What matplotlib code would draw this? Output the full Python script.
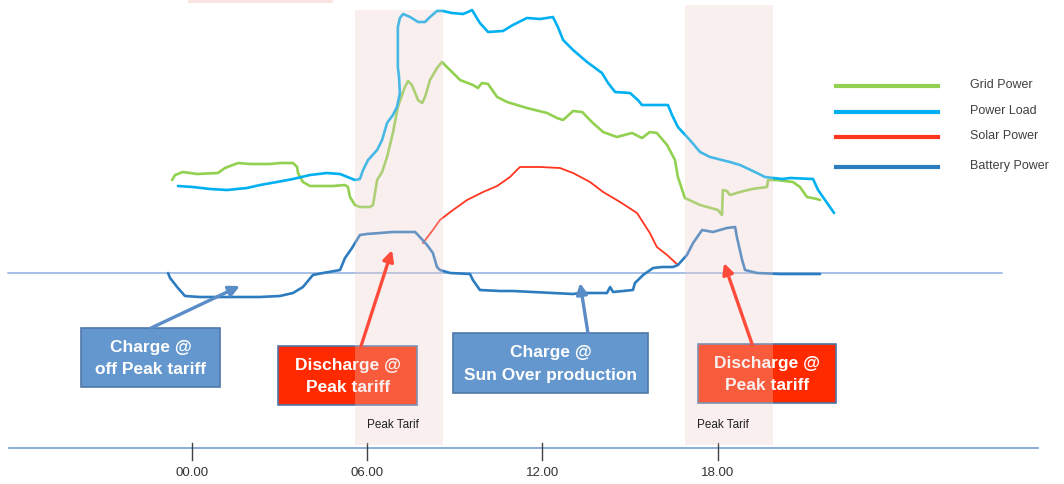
import numpy as np
import matplotlib.pyplot as plt
from matplotlib.patches import Rectangle

# %%
# Daily power profile: time in hours, power in kW (battery > 0 = discharging)
grid_t = [-0.68, -0.58, -0.31, -0.07, 0.17, 0.89, 1.13, 1.58, 1.99, 2.67, 3.01, 3.46,
          3.60, 3.63, 3.80, 4.04, 4.83, 5.24, 5.34, 5.41, 5.58, 5.75, 6.10, 6.20,
          6.34, 6.51, 6.68, 6.88, 7.05, 7.29, 7.40, 7.53, 7.74, 7.88, 7.98, 8.15,
          8.39, 8.56, 8.73, 9.01, 9.18, 9.62, 9.79, 9.93, 10.14, 10.45, 10.79, 11.47,
          12.16, 12.50, 12.71, 13.05, 13.36, 13.73, 14.08, 14.55, 15.07, 15.41, 15.68,
          15.92, 16.27, 16.54, 16.64, 16.88, 17.40, 18.01, 18.15, 18.18, 18.32, 18.42,
          18.77, 19.18, 19.69, 19.73, 20.03, 20.58, 20.82, 21.06, 21.40, 21.51]
grid_kw = [9.3, 9.8, 10.1, 10.0, 9.9, 10.0, 10.5, 11.0, 10.9, 10.9, 11.0, 11.0,
           10.6, 10.0, 9.1, 8.7, 8.7, 8.8, 8.6, 7.6, 6.8, 6.6, 6.6, 6.8,
           9.3, 10.1, 11.6, 14.0, 16.6, 18.6, 19.2, 18.8, 17.3, 17.0, 17.6, 19.3,
           20.5, 21.1, 20.6, 19.8, 19.3, 18.8, 18.5, 19.0, 18.9, 17.6, 17.1, 16.5,
           16.0, 15.5, 15.3, 16.2, 16.1, 15.0, 14.1, 13.6, 14.0, 13.5, 14.1,
           14.0, 12.8, 11.3, 9.6, 7.5, 6.8, 6.3, 5.8, 8.3, 8.2, 7.8,
           8.1, 8.4, 8.6, 9.3, 9.3, 9.1, 8.6, 7.6, 7.4, 7.3]

load_t = [-0.48, 0.03, 0.62, 1.20, 1.88, 2.33, 2.91, 3.46, 4.04, 4.62, 5.07, 5.41,
          5.58, 5.75, 5.86, 6.03, 6.34, 6.51, 6.68, 6.88, 7.02, 7.12, 7.09, 7.05,
          7.05, 7.12, 7.23, 7.47, 7.74, 7.98, 8.15, 8.39, 8.60, 8.90, 9.28, 9.45,
          9.59, 9.86, 10.14, 10.65, 10.99, 11.47, 11.92, 12.36, 12.53, 12.71, 13.05,
          13.53, 14.04, 14.25, 14.49, 15.00, 15.27, 15.41, 16.30, 16.44, 16.64, 17.05,
          17.40, 17.74, 18.42, 18.77, 19.35, 19.62, 20.21, 20.48, 21.27, 21.44, 21.75, 21.99]
load_kw = [8.7, 8.6, 8.4, 8.3, 8.5, 8.8, 9.1, 9.4, 9.8, 10.0, 9.9, 9.5,
           9.3, 9.4, 10.3, 11.3, 12.3, 13.3, 15.0, 15.8, 16.6, 18.0, 19.6, 20.6,
           24.6, 25.5, 25.9, 25.6, 25.1, 25.1, 25.6, 26.2, 26.2, 26.0, 25.9, 26.1,
           26.3, 25.0, 24.1, 24.2, 24.8, 25.5, 25.4, 25.6, 24.6, 23.3, 22.3,
           21.1, 20.0, 19.0, 18.1, 18.0, 17.3, 16.8, 16.8, 15.8, 14.6, 13.3,
           12.1, 11.6, 11.1, 10.8, 10.0, 9.6, 9.4, 9.5, 9.4, 8.3, 7.0, 6.0]

solar_t = [7.91, 8.25, 8.49, 8.94, 9.42, 9.97, 10.45, 10.89, 11.23, 11.92, 12.60,
           13.05, 13.63, 14.08, 14.66, 15.24, 15.68, 15.92, 16.27, 16.64]
solar_kw = [3.0, 4.3, 5.3, 6.3, 7.3, 8.1, 8.7, 9.6, 10.6, 10.6, 10.5,
            10.0, 9.1, 8.1, 7.1, 6.0, 4.0, 2.6, 1.8, 0.8]

batt_t = [-0.82, -0.75, -0.51, -0.24, 0.27, 1.20, 2.33, 3.01, 3.46, 3.80, 4.14, 4.49,
          5.07, 5.24, 5.48, 5.75, 5.99, 6.44, 6.88, 7.64, 7.74, 8.05, 8.25, 8.39,
          8.49, 8.84, 9.52, 9.62, 9.86, 10.55, 10.99, 13.05, 13.29, 14.21, 14.32,
          14.42, 15.10, 15.17, 15.45, 15.79, 16.10, 16.47, 16.64, 16.95, 17.16, 17.47,
          17.84, 18.32, 18.60, 18.66, 18.84, 18.94, 19.35, 20.14, 21.51]
batt_kw = [0.0, -0.5, -1.4, -2.3, -2.4, -2.4, -2.4, -2.3, -2.0, -1.4, -0.2, 0.0,
           0.3, 1.5, 2.5, 3.8, 3.9, 4.0, 4.1, 4.1, 3.8, 2.8, 2.0, 0.6,
           0.3, 0.0, -0.1, -0.7, -1.7, -1.8, -1.8, -2.1, -2.0, -2.0, -1.4,
           -1.9, -1.7, -1.0, -0.2, 0.5, 0.6, 0.6, 0.8, 1.8, 3.0, 4.3,
           4.1, 4.5, 4.6, 3.6, 1.3, 0.3, 0.0, -0.1, -0.1]

# peak tariff windows (start, end) in hours
peak_windows = [(5.58, 8.60), (16.88, 19.90)]
tick_hours = [0, 6, 12, 18]
tick_labels = ['00.00', '06.00', '12.00', '18.00']

names = ['Grid Power', 'Power Load', 'Solar Power', 'Battery Power']
colors = ['#92D050', '#00B0F0', '#FF3520', '#2E7CC0']

# callouts: text, box (x0, x1, y0, y1), arrow tail, arrow head, colours
callouts = [
    ('Charge @\noff Peak tariff', (-3.80, 0.96, -11.4, -5.5), (-1.40, -5.5), (1.64, -1.3), '#6497CD', '#5A8CC8'),
    ('Discharge @\nPeak tariff', (2.95, 7.71, -13.2, -7.3), (5.79, -7.3), (6.85, 2.3), '#FF2A00', '#FF4B3A'),
    ('Charge @\nSun Over production', (8.94, 15.62, -12.0, -6.0), (13.56, -6.0), (13.29, -1.0), '#6497CD', '#5A8CC8'),
    ('Discharge @\nPeak tariff', (17.33, 22.05, -13.0, -7.1), (19.18, -7.1), (18.22, 1.0), '#FF2A00', '#FF4B3A'),
]

# %%
plt.rcParams['font.family'] = ['Liberation Sans', 'DejaVu Sans']
fig = plt.figure(figsize=(10.64, 4.84), dpi=100)
ax = fig.add_axes([0, 0, 1, 1])
ax.set_xlim(-6.575, 29.863)
ax.set_ylim(-21.1, 27.3)
ax.axis('off')

# highlight strip left over from the slide title
ax.add_patch(Rectangle((-0.15, 27.0), 4.97, 0.4, facecolor='#F9E4E2', lw=0, zorder=0))

# zero line and time axis
ax.plot([-6.30, 27.74], [0, 0], color='#8DB0DC', lw=1.1, zorder=1)
ax.plot([-6.27, 28.97], [-17.5, -17.5], color='#7FA6D8', lw=1.3, zorder=1)
for h, lab in zip(tick_hours, tick_labels):
    ax.plot([h, h], [-17.0, -18.7], color='#404040', lw=1.0, zorder=2)
    ax.text(h, -20.0, lab, ha='center', va='center', fontsize=9.5, color='#333333')

ax.plot(grid_t, grid_kw, color=colors[0], lw=1.9, zorder=3, solid_capstyle='round')
ax.plot(load_t, load_kw, color=colors[1], lw=1.9, zorder=3, solid_capstyle='round')
ax.plot(solar_t, solar_kw, color=colors[2], lw=1.3, zorder=3)
ax.plot(batt_t, batt_kw, color=colors[3], lw=1.9, zorder=3, solid_capstyle='round')

# legend drawn by hand on the right
for i, (nm, c) in enumerate(zip(names, colors)):
    y = [18.7, 16.1, 13.6, 10.6][i]
    ax.plot([22.05, 25.55], [y, y], color=c, lw=3.0, zorder=3)
    ax.text(26.64, y + 0.1, nm, ha='left', va='center', fontsize=9, color='#404040')

# callout boxes
for txt, (x0, x1, y0, y1), tail, head, fc, ac in callouts:
    ax.add_patch(Rectangle((x0, y0), x1 - x0, y1 - y0, facecolor=fc,
                           edgecolor='#4F78A8', lw=1.2, zorder=4))
    ax.text((x0 + x1) / 2, (y0 + y1) / 2 - 0.1, txt, ha='center', va='center',
            fontsize=12.5, fontweight='bold', color='white', linespacing=1.6,
            family=['Liberation Sans Narrow', 'Liberation Sans', 'DejaVu Sans'], zorder=5)

# peak tariff bands, translucent over the curves and boxes
for s, e in peak_windows:
    ax.add_patch(Rectangle((s, -17.2), e - s, 43.5 + (0.5 if s > 10 else 0),
                           facecolor='#EECDCD', alpha=0.3, lw=0, zorder=6))
    ax.text(s + 0.4, -15.2, 'Peak Tarif', ha='left', va='center', fontsize=8.5,
            color='#222222', zorder=7)

for txt, box, tail, head, fc, ac in callouts:
    ax.annotate('', xy=head, xytext=tail, zorder=8,
                arrowprops=dict(arrowstyle='-|>', color=ac, lw=2.4,
                                mutation_scale=16, shrinkA=0, shrinkB=0))

fig.savefig('out.png', dpi=100)
